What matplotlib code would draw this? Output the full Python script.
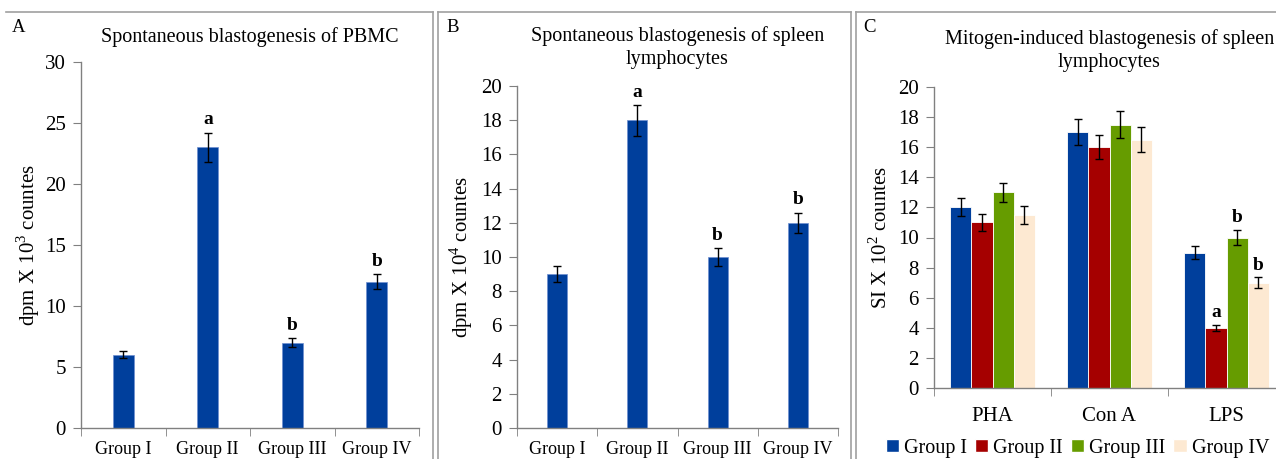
import matplotlib
matplotlib.use("Agg")
import matplotlib.pyplot as plt
import numpy as np
from matplotlib.lines import Line2D
from matplotlib.patches import Patch

plt.rcParams['font.family'] = ['Liberation Serif', 'DejaVu Serif']
plt.rcParams['mathtext.fontset'] = 'custom'
plt.rcParams['mathtext.rm'] = 'Liberation Serif'

groups = ["Group I", "Group II", "Group III", "Group IV"]

# Panel A
a_vals = [6, 23, 7, 12]
a_err = [0.3, 1.2, 0.35, 0.6]
a_sig = ["", "a", "b", "b"]

# Panel B
b_vals = [9, 18, 10, 12]
b_err = [0.45, 0.9, 0.5, 0.6]
b_sig = ["", "a", "b", "b"]

# Panel C
mitogens = ["PHA", "Con A", "LPS"]
c_g1 = [12, 17, 9]
c_g2 = [11, 16, 4]
c_g3 = [13, 17.5, 10]
c_g4 = [11.5, 16.5, 7]
c_e1 = [0.6, 0.85, 0.45]
c_e2 = [0.55, 0.8, 0.2]
c_e3 = [0.65, 0.9, 0.5]
c_e4 = [0.6, 0.85, 0.35]
c_sig1 = ["", "", ""]
c_sig2 = ["", "", "a"]
c_sig3 = ["", "", "b"]
c_sig4 = ["", "", "b"]

BLUE = "#003F9C"
RED = "#A50000"
GREEN = "#669C00"
BEIGE = "#FDE9D2"
AXC = "#808080"

W, H = 1276, 459
fig = plt.figure(figsize=(W / 100, H / 100), dpi=100)

def px_axes(x0, x1, ytop, ybot):
    return fig.add_axes([x0 / W, 1 - ybot / H, (x1 - x0) / W, (ybot - ytop) / H])

def style(ax, ncat, ymax, ystep):
    for s in ["top", "right"]:
        ax.spines[s].set_visible(False)
    for s in ["left", "bottom"]:
        ax.spines[s].set_color(AXC)
        ax.spines[s].set_linewidth(1)
    ax.set_xlim(-0.5, ncat - 0.5)
    ax.set_ylim(0, ymax)
    ax.set_yticks(np.arange(0, ymax + 0.01, ystep))
    ax.tick_params(axis='y', direction='out', length=6, color=AXC, labelsize=15, pad=5)
    ax.set_xticks(np.arange(ncat))
    ax.tick_params(axis='x', which='major', length=0, labelsize=13, pad=9.5)
    ax.set_xticks(np.arange(-0.5, ncat, 1.0), minor=True)
    ax.tick_params(axis='x', which='minor', direction='out', length=6, color=AXC)

def single_panel(ax, vals, errs, sigs, ymax, ystep, ylabel, lpad):
    x = np.arange(len(vals))
    ax.bar(x, vals, width=0.25, color=BLUE, edgecolor="#6F8FD0", linewidth=0.5, zorder=2)
    ax.errorbar(x, vals, yerr=errs, fmt='none', ecolor='black', elinewidth=1,
                capsize=3, capthick=1, zorder=3)
    for xi, v, e, s in zip(x, vals, errs, sigs):
        if s:
            ax.text(xi, v + e + ymax * 0.012, s, ha='center', va='bottom',
                    fontsize=14, fontweight='bold')
    style(ax, len(vals), ymax, ystep)
    ax.set_xticklabels(groups)
    ax.set_ylabel(ylabel, fontsize=15, labelpad=lpad)

# Panel A
axA = px_axes(81, 419, 62, 428)
single_panel(axA, a_vals, a_err, a_sig, 30, 5, r"dpm X 10$^{\mathregular{3}}$ countes", 2)
axA.set_title("Spontaneous blastogenesis of PBMC", fontsize=14.5, pad=14.5)

# Panel B
axB = px_axes(517, 838, 86, 428)
single_panel(axB, b_vals, b_err, b_sig, 20, 2, r"dpm X 10$^{\mathregular{4}}$ countes", 4.5)
axB.set_title("Spontaneous blastogenesis of spleen\nlymphocytes", fontsize=14.5, pad=16,
              linespacing=1.3)

# Panel C
axC = px_axes(934, 1285, 87, 388)
xc = np.arange(len(mitogens))
bw = 0.18
series = [(c_g1, c_e1, c_sig1, BLUE, "Group I"),
          (c_g2, c_e2, c_sig2, RED, "Group II"),
          (c_g3, c_e3, c_sig3, GREEN, "Group III"),
          (c_g4, c_e4, c_sig4, BEIGE, "Group IV")]
for i, (vals, errs, sigs, col, lab) in enumerate(series):
    xs = xc + (i - 1.5) * bw
    axC.bar(xs, vals, width=bw, color=col, edgecolor="white", linewidth=0.6,
            zorder=2, label=lab)
    axC.errorbar(xs, vals, yerr=errs, fmt='none', ecolor='black', elinewidth=1,
                 capsize=3, capthick=1, zorder=3)
    for xi, v, e, s in zip(xs, vals, errs, sigs):
        if s:
            axC.text(xi, v + e + 0.25, s, ha='center', va='bottom',
                     fontsize=14, fontweight='bold')
style(axC, len(mitogens), 20, 2)
axC.set_xticklabels(mitogens)
axC.tick_params(axis='x', which='major', labelsize=15, pad=14)
axC.set_ylabel(r"SI X 10$^{\mathregular{2}}$ countes", fontsize=15, labelpad=4)
axC.set_title("Mitogen-induced blastogenesis of spleen\nlymphocytes", fontsize=14.5,
              pad=14.5, linespacing=1.3)
handles = [Patch(facecolor=c, edgecolor='white') for c in [BLUE, RED, GREEN, BEIGE]]
fig.legend(handles, ["Group I", "Group II", "Group III", "Group IV"],
           loc='center left', bbox_to_anchor=(886 / W, 1 - 448 / H), ncol=4,
           frameon=False, fontsize=14.5, handlelength=0.65, handleheight=0.65,
           handletextpad=0.25, columnspacing=0.4, borderaxespad=0, borderpad=0)

# Panel letters
fig.text(12 / W, 1 - 28 / H, "A", fontsize=13.5, va='center', ha='left')
fig.text(446 / W, 1 - 28 / H, "B", fontsize=13.5, va='center', ha='left')
fig.text(863 / W, 1 - 28 / H, "C", fontsize=13.5, va='center', ha='left')

# Panel borders
bc = "#A0A0A0"
def fline(xs, ys):
    fig.add_artist(Line2D([x / W for x in xs], [1 - y / H for y in ys],
                          color=bc, linewidth=1.2))
fline([6, 433], [12, 12])
fline([433, 433], [12, 459])
fline([438, 851], [12, 12])
fline([438, 438], [12, 459])
fline([851, 851], [12, 459])
fline([856, 1276], [12, 12])
fline([856, 856], [12, 459])

fig.savefig("out.png", dpi=100)
